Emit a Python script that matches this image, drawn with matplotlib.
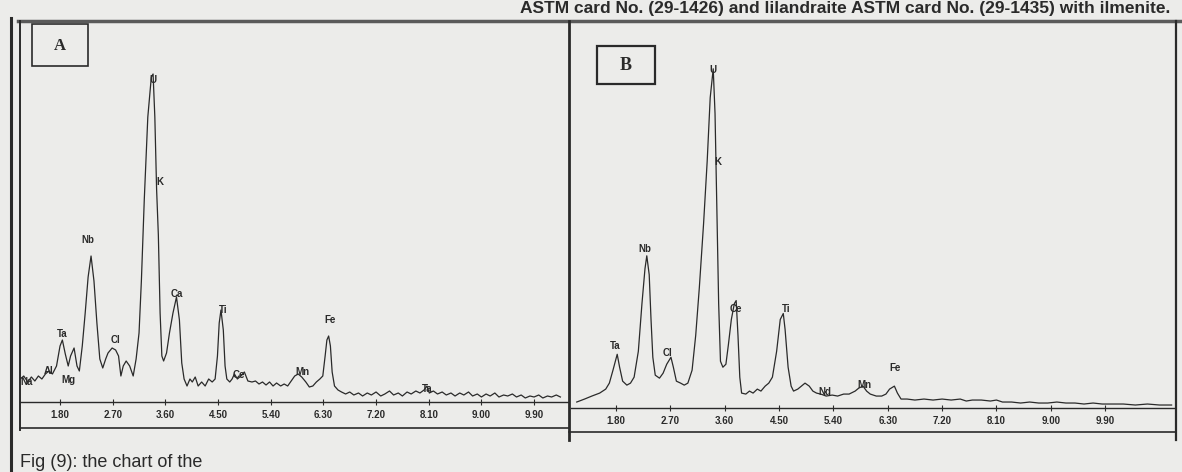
import matplotlib
matplotlib.use("Agg")
import matplotlib.pyplot as plt
from matplotlib.patches import Rectangle

plt.rcParams['font.family'] = ['Liberation Sans', 'DejaVu Sans']

# spectrum A (energy keV, counts)
a_kev = [1.12, 1.18, 1.25, 1.31, 1.37, 1.43, 1.49, 1.55, 1.61, 1.67, 1.74, 1.80, 1.84, 1.89, 1.94,
         1.98, 2.04, 2.09, 2.13, 2.18, 2.23, 2.28, 2.33, 2.38, 2.43, 2.48, 2.53, 2.58, 2.62, 2.69,
         2.75, 2.80, 2.84, 2.88, 2.93, 2.99, 3.05, 3.10, 3.15, 3.19, 3.24, 3.30, 3.36, 3.39, 3.42,
         3.45, 3.48, 3.51, 3.54, 3.57, 3.62, 3.67, 3.73, 3.79, 3.84, 3.88, 3.92, 3.97, 4.02, 4.06,
         4.11, 4.16, 4.22, 4.28, 4.34, 4.40, 4.45, 4.49, 4.52, 4.55, 4.59, 4.62, 4.65, 4.70, 4.74,
         4.78, 4.83, 4.89, 4.95, 5.01, 5.08, 5.14, 5.20, 5.26, 5.32, 5.38, 5.44, 5.50, 5.57, 5.63,
         5.69, 5.75, 5.81, 5.87, 5.93, 6.00, 6.06, 6.12, 6.18, 6.24, 6.29, 6.33, 6.36, 6.39, 6.42,
         6.45, 6.49, 6.55, 6.61, 6.68, 6.75, 6.82, 6.90, 6.97, 7.05, 7.12, 7.20, 7.28, 7.35, 7.43,
         7.50, 7.58, 7.65, 7.73, 7.80, 7.88, 7.95, 8.02, 8.07, 8.11, 8.18, 8.25, 8.33, 8.40, 8.48,
         8.55, 8.63, 8.70, 8.78, 8.85, 8.93, 9.00, 9.08, 9.15, 9.23, 9.30, 9.38, 9.45, 9.53, 9.60,
         9.68, 9.75, 9.83, 9.90, 9.98, 10.05, 10.13, 10.20, 10.28, 10.35]
a_cnt = [23, 26, 20, 25, 21, 26, 23, 28, 31, 28, 36, 56, 62, 48, 36,
         46, 54, 36, 31, 56, 89, 125, 146, 121, 79, 43, 34, 43, 49, 54,
         52, 46, 26, 36, 41, 36, 26, 43, 69, 121, 203, 285, 325, 328, 285,
         213, 167, 89, 46, 41, 49, 69, 89, 105, 82, 39, 23, 16, 23, 20,
         25, 16, 20, 16, 23, 20, 23, 46, 79, 92, 72, 36, 23, 20, 23,
         28, 23, 26, 30, 21, 20, 21, 18, 20, 17, 20, 16, 19, 16, 18,
         16, 21, 26, 28, 25, 20, 15, 16, 20, 23, 26, 46, 62, 66, 56,
         30, 16, 12, 10, 8, 10, 7, 9, 6, 9, 7, 10, 6, 8, 11,
         7, 9, 6, 10, 8, 11, 9, 12, 16, 9, 11, 8, 10, 7, 9,
         6, 9, 7, 10, 6, 8, 5, 8, 6, 9, 5, 7, 6, 8, 5,
         7, 4, 6, 5, 7, 4, 6, 5, 7, 5]

# spectrum B
b_kev = [1.15, 1.28, 1.40, 1.53, 1.63, 1.69, 1.75, 1.82, 1.86, 1.91, 1.98, 2.04, 2.10, 2.17, 2.23,
         2.28, 2.31, 2.35, 2.38, 2.41, 2.45, 2.52, 2.58, 2.64, 2.71, 2.75, 2.80, 2.87, 2.93, 2.99,
         3.06, 3.12, 3.18, 3.25, 3.31, 3.36, 3.41, 3.44, 3.47, 3.50, 3.53, 3.57, 3.62, 3.66, 3.71,
         3.76, 3.79, 3.82, 3.85, 3.88, 3.95, 4.01, 4.07, 4.14, 4.20, 4.27, 4.33, 4.39, 4.46, 4.52,
         4.57, 4.60, 4.65, 4.70, 4.74, 4.81, 4.87, 4.93, 5.00, 5.06, 5.12, 5.19, 5.28, 5.38, 5.47,
         5.57, 5.66, 5.76, 5.82, 5.89, 5.95, 6.01, 6.11, 6.20, 6.27, 6.33, 6.41, 6.46, 6.52, 6.62,
         6.75, 6.90, 7.05, 7.20, 7.35, 7.50, 7.60, 7.70, 7.85, 8.00, 8.10, 8.20, 8.35, 8.50, 8.65,
         8.80, 8.95, 9.10, 9.25, 9.40, 9.55, 9.70, 9.85, 10.00, 10.20, 10.40, 10.60, 10.80, 11.00]
b_cnt = [6, 9, 12, 15, 19, 25, 38, 54, 41, 27, 23, 25, 31, 57, 105,
         140, 153, 134, 89, 51, 33, 30, 35, 44, 51, 41, 27, 25, 23, 25,
         38, 73, 121, 185, 248, 312, 341, 296, 201, 105, 47, 41, 44, 63, 89,
         105, 108, 73, 31, 15, 14, 17, 15, 19, 17, 22, 25, 31, 57, 89,
         95, 79, 41, 22, 17, 19, 22, 25, 22, 17, 15, 14, 12, 13, 12,
         14, 14, 17, 20, 22, 17, 14, 12, 12, 14, 19, 22, 15, 9, 9,
         8, 9, 8, 9, 8, 9, 7, 8, 8, 7, 8, 6, 6, 5, 6,
         5, 5, 6, 5, 5, 4, 5, 4, 4, 4, 3, 4, 3, 3]

kev_ticks = [1.80, 2.70, 3.60, 4.50, 5.40, 6.30, 7.20, 8.10, 9.00, 9.90]

# element labels (text, keV, counts)
a_labels = [("U", 3.39, 322), ("K", 3.50, 220), ("Nb", 2.28, 162), ("Ta", 1.84, 68),
            ("Cl", 2.74, 62), ("Ca", 3.80, 108), ("Ti", 4.59, 92), ("Fe", 6.42, 82),
            ("Mn", 5.94, 30), ("Ce", 4.86, 27), ("Ta", 8.07, 13), ("Na", 1.22, 20),
            ("Al", 1.61, 31), ("Mg", 1.95, 22)]
b_labels = [("U", 3.41, 340), ("K", 3.48, 247), ("Nb", 2.28, 160), ("Ta", 1.78, 62),
            ("Cl", 2.66, 55), ("Ce", 3.79, 100), ("Ti", 4.61, 100), ("Nd", 5.26, 16),
            ("Mn", 5.92, 23), ("Fe", 6.42, 40)]

W, H = 1182, 472
paper = '#ececea'
ink = '#2a2a2a'

fig = plt.figure(figsize=(W / 100, H / 100), dpi=100, facecolor=paper)
bg = fig.add_axes([0, 0, 1, 1])
bg.set_xlim(0, W)
bg.set_ylim(H, 0)
bg.axis('off')


def px_axes(left, top, right, bottom):
    return fig.add_axes([left / W, 1 - bottom / H, (right - left) / W, (bottom - top) / H])


# page frame
bg.plot([11, 11], [18, H], color=ink, lw=2.2)
bg.plot([18, 1180], [21, 21], color='#5a5a5a', lw=2.5)
bg.plot([20, 20], [21, 430], color=ink, lw=1.4)
bg.plot([569, 569], [21, 440], color=ink, lw=2.0)
bg.plot([1176, 1176], [21, 440], color=ink, lw=1.6)
bg.plot([20, 569], [428, 428], color=ink, lw=1.2)
bg.plot([569, 1176], [432, 432], color=ink, lw=1.2)
bg.add_patch(Rectangle((32, 24), 56, 42, fill=False, ec=ink, lw=1.2))
bg.add_patch(Rectangle((597, 46), 58, 38, fill=False, ec=ink, lw=1.6))
bg.text(60, 46, "A", ha='center', va='center', fontsize=12, fontweight='bold',
        family='Liberation Serif', color=ink)
bg.text(626, 66, "B", ha='center', va='center', fontsize=13, fontweight='bold',
        family='Liberation Serif', color=ink)

bg.text(1170, 13, "ASTM card No. (29-1426) and lilandraite ASTM card No. (29-1435) with ilmenite.",
        ha='right', va='baseline', fontsize=12.5, fontweight='bold', color=ink)
bg.text(20, 467, "Fig (9): the chart of the", ha='left', va='baseline', fontsize=13, color=ink)


def spectrum(ax, kev, cnt, labels, xlim):
    ax.set_facecolor('none')
    ax.plot(kev, cnt, color=ink, lw=0.9)
    for name, x, y in labels:
        ax.text(x, y, name, ha='center', va='center', fontsize=7, fontweight='bold', color=ink)
    ax.set_xlim(*xlim)
    ax.set_ylim(0, 380)
    for side in ['top', 'left', 'right']:
        ax.spines[side].set_visible(False)
    ax.spines['bottom'].set_color(ink)
    ax.spines['bottom'].set_linewidth(1.0)
    ax.set_yticks([])
    ax.set_xticks(kev_ticks)
    ax.set_xticklabels(["%.2f" % t for t in kev_ticks], fontweight='bold')
    ax.tick_params(axis='x', direction='inout', length=4, width=0.8, labelsize=7,
                   pad=4, colors=ink)


axA = px_axes(20, 22, 568, 402)
spectrum(axA, a_kev, a_cnt, a_labels, (1.116, 10.48))
axB = px_axes(571, 30, 1174, 408)
spectrum(axB, b_kev, b_cnt, b_labels, (1.055, 11.04))

fig.savefig("out.png", dpi=100, facecolor=paper)
